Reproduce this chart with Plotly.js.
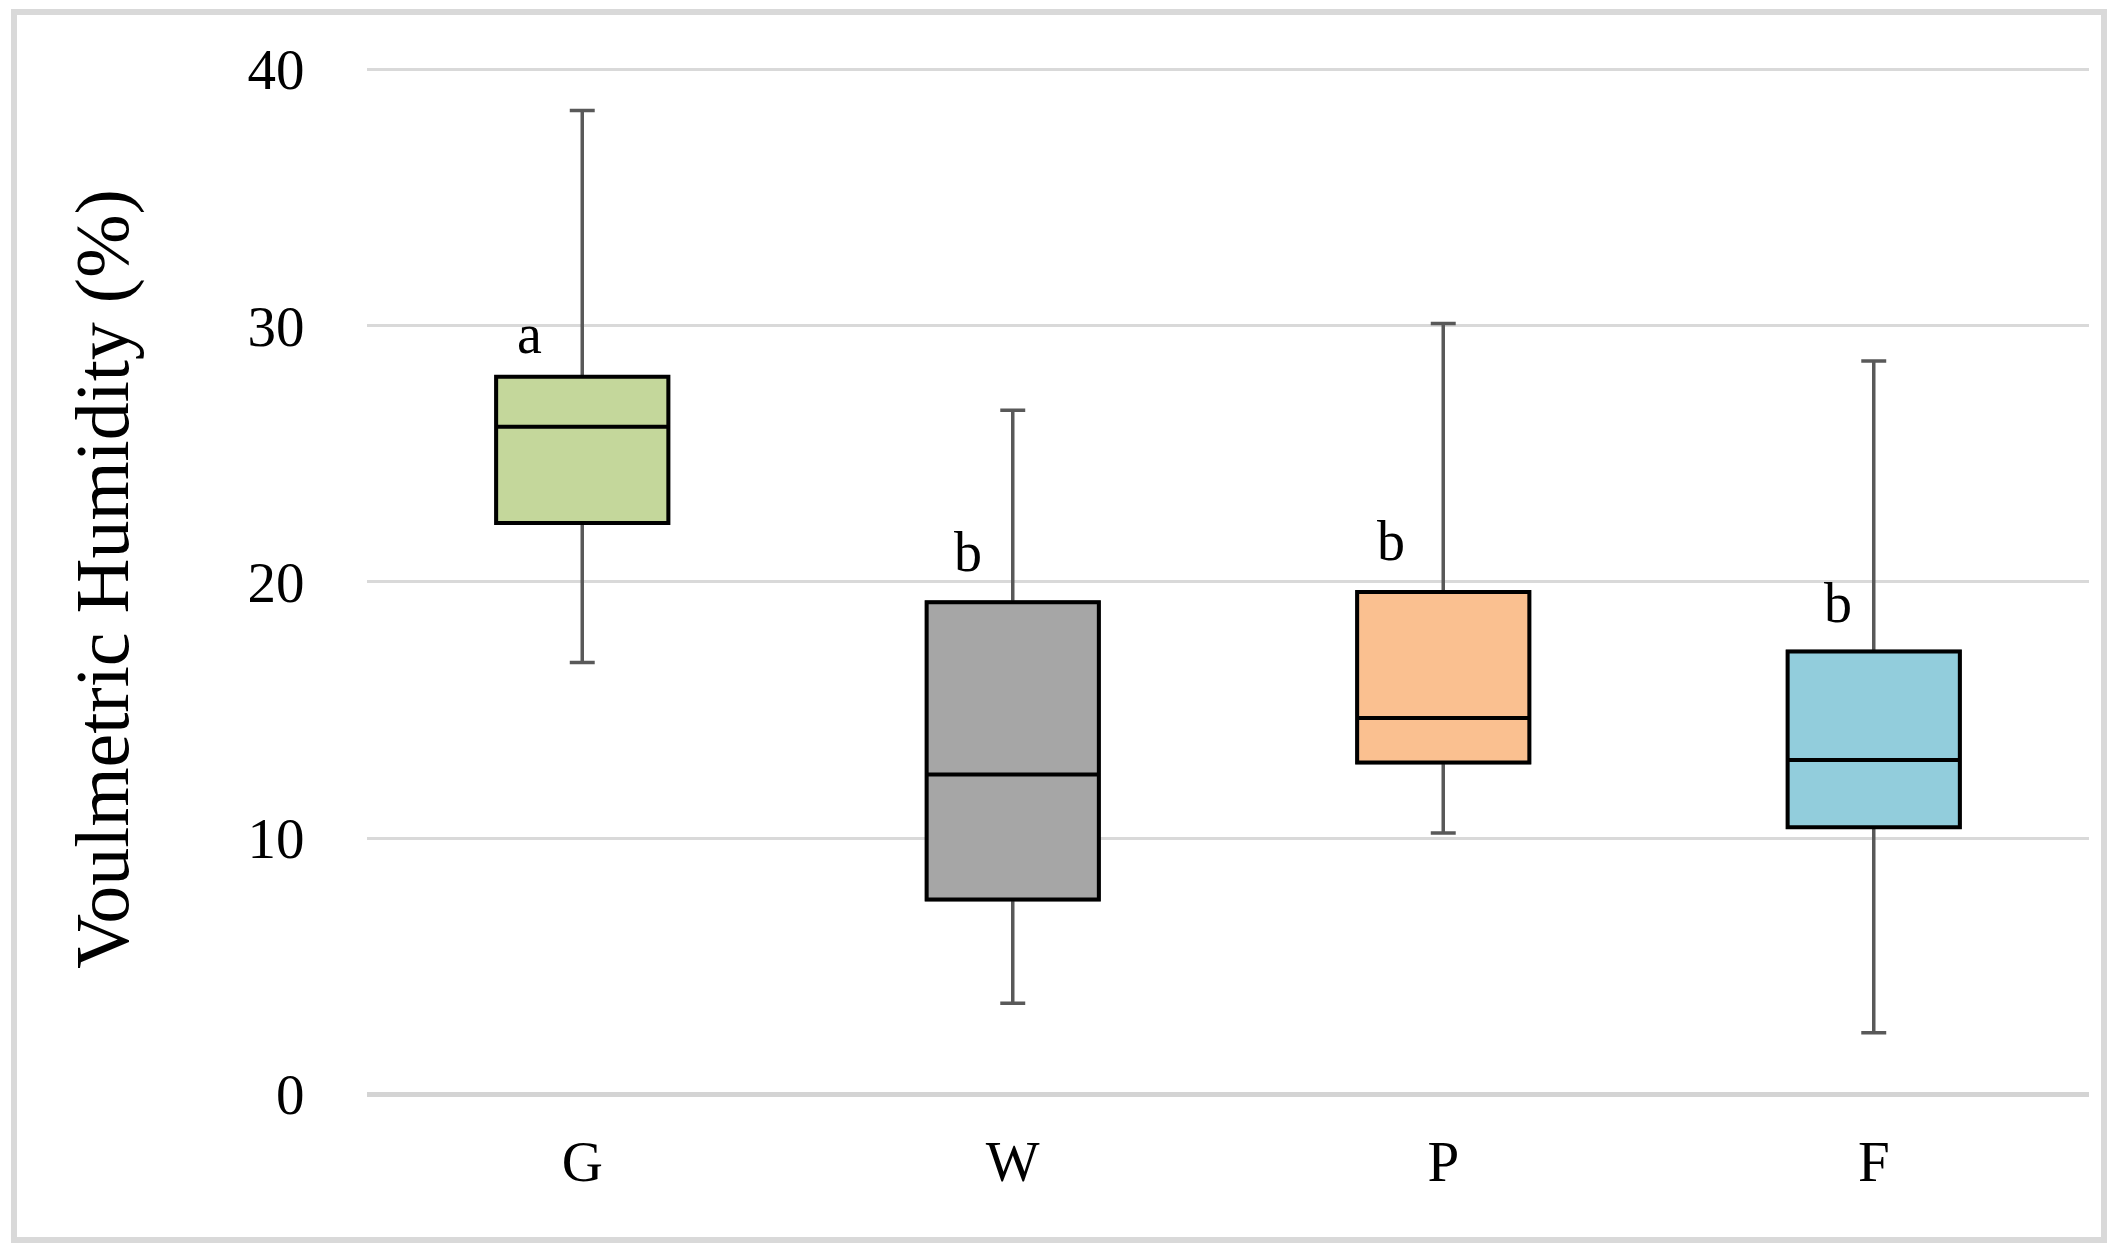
<!DOCTYPE html>
<html>
<head>
<meta charset="utf-8">
<script src="https://cdn.plot.ly/plotly-3.0.1.min.js"></script>
<style>
  html, body { margin: 0; padding: 0; background: #ffffff; }
  #wrap { position: relative; width: 2117px; height: 1259px; overflow: hidden; }
  #frame { position: absolute; left: 11px; top: 9px; width: 2096px; height: 1234px;
           box-sizing: border-box; border: 6px solid #d9d9d9; pointer-events: none; }
  #chart { position: absolute; left: 0; top: 0; width: 2117px; height: 1259px; }
</style>
</head>
<body>
<div id="wrap">
  <div id="chart"></div>
  <div id="frame"></div>
</div>
<script>
// ---- data ----
const categories = ['G', 'W', 'P', 'F'];
const lowerWhisker = [16.85, 3.55, 10.2, 2.4];
const q1Values     = [22.3, 7.6, 12.95, 10.42];
const medianValues = [26.05, 12.48, 14.68, 13.05];
const q3Values     = [28.0, 19.2, 19.6, 17.28];
const upperWhisker = [38.4, 26.7, 30.08, 28.62];
const letterLabels = ['a', 'b', 'b', 'b'];
const letterValues = [28.9, 20.4, 20.8, 18.4];
const yTickValues  = [0, 10, 20, 30, 40];

// ---- styles ----
const fillColors = ['#c4d79b', '#a6a6a6', '#fac090', '#92cddc'];
const letterShift = [-53, -45, -52, -36];
const serif = 'Liberation Serif, Times New Roman, serif';

const traces = [];
// whiskers (grey) underneath
traces.push({
  type: 'box',
  x: categories,
  lowerfence: lowerWhisker,
  q1: q1Values,
  median: medianValues,
  q3: q3Values,
  upperfence: upperWhisker,
  width: 0.4,
  whiskerwidth: 0.145,
  fillcolor: 'rgba(0,0,0,0)',
  line: { color: '#595959', width: 3.5 },
  boxpoints: false,
  hoverinfo: 'skip',
  showlegend: false
});
// coloured boxes with black outline on top
categories.forEach((c, i) => {
  traces.push({
    type: 'box',
    x: [c],
    lowerfence: [q1Values[i]],
    q1: [q1Values[i]],
    median: [medianValues[i]],
    q3: [q3Values[i]],
    upperfence: [q3Values[i]],
    width: 0.4,
    whiskerwidth: 0,
    fillcolor: fillColors[i],
    line: { color: '#000000', width: 4 },
    boxpoints: false,
    hoverinfo: 'skip',
    showlegend: false
  });
});

const annotations = categories.map((c, i) => ({
  x: c,
  y: letterValues[i],
  xref: 'x',
  yref: 'y',
  text: letterLabels[i],
  showarrow: false,
  xanchor: 'center',
  yanchor: 'bottom',
  xshift: letterShift[i],
  yshift: -13,
  font: { family: serif, size: 56, color: '#000000' }
}));

const layout = {
  width: 2117,
  height: 1259,
  margin: { l: 367, r: 28, t: 63, b: 164, pad: 0 },
  paper_bgcolor: 'rgba(0,0,0,0)',
  plot_bgcolor: 'rgba(0,0,0,0)',
  boxmode: 'overlay',
  showlegend: false,
  font: { family: serif, color: '#000000' },
  xaxis: {
    type: 'category',
    categoryorder: 'array',
    categoryarray: categories,
    range: [-0.5, 3.5],
    showgrid: false,
    showline: false,
    zeroline: false,
    ticks: 'outside',
    ticklen: 17,
    tickcolor: 'rgba(0,0,0,0)',
    tickfont: { family: serif, size: 57, color: '#000000' },
    fixedrange: true
  },
  yaxis: {
    range: [-0.03, 40.25],
    tickmode: 'array',
    tickvals: yTickValues,
    ticktext: yTickValues.map(String),
    showgrid: true,
    gridcolor: '#d9d9d9',
    gridwidth: 3,
    zeroline: true,
    zerolinecolor: '#d4d4d4',
    zerolinewidth: 5,
    showline: false,
    ticks: 'outside',
    ticklen: 50,
    tickcolor: 'rgba(0,0,0,0)',
    tickfont: { family: serif, size: 57, color: '#000000' },
    title: {
      text: 'Voulmetric Humidity (%)',
      font: { family: serif, size: 76, color: '#000000' },
      standoff: 93
    },
    automargin: false,
    fixedrange: true
  },
  annotations: annotations
};

Plotly.newPlot('chart', traces, layout, { displayModeBar: false, staticPlot: true });
</script>
</body>
</html>
